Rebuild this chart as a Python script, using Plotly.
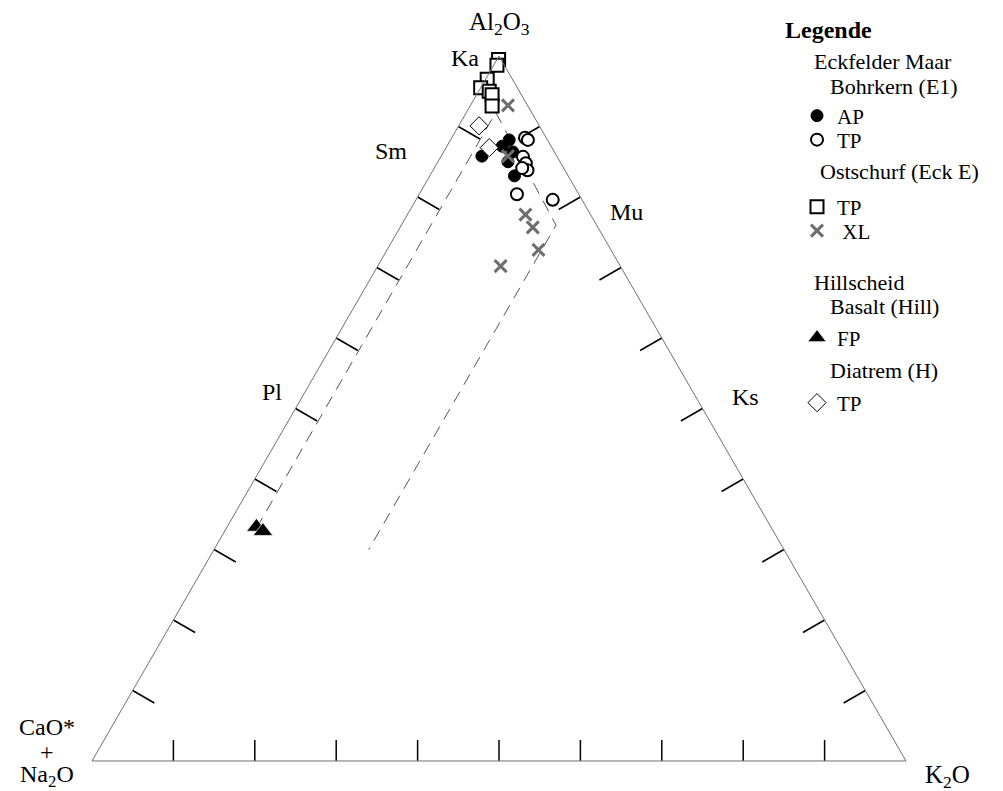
import plotly.graph_objects as go

W, H = 1003, 791

# ---------------- data (fractions: A = Al2O3, CN = CaO*+Na2O, K = K2O) -------------
ap_A = [0.881, 0.872, 0.858, 0.864, 0.850, 0.830]
ap_K = [0.072, 0.068, 0.050, 0.085, 0.086, 0.104]
ap_CN = [0.047, 0.060, 0.092, 0.051, 0.064, 0.066]

e1tp_A = [0.884, 0.881, 0.857, 0.848, 0.838, 0.841, 0.804, 0.796]
e1tp_K = [0.090, 0.095, 0.101, 0.109, 0.116, 0.108, 0.120, 0.168]
e1tp_CN = [0.026, 0.024, 0.042, 0.043, 0.046, 0.051, 0.076, 0.036]

ecktp_A = [0.995, 0.987, 0.967, 0.955, 0.950, 0.945, 0.929]
ecktp_K = [0.002, 0.004, 0.002, 0.000, 0.013, 0.019, 0.027]
ecktp_CN = [0.003, 0.009, 0.031, 0.045, 0.037, 0.036, 0.044]

xl_A = [0.930, 0.858, 0.775, 0.757, 0.725, 0.702]
xl_K = [0.046, 0.082, 0.145, 0.163, 0.186, 0.151]
xl_CN = [0.024, 0.060, 0.080, 0.080, 0.089, 0.147]

fp_A = [0.332, 0.326]
fp_K = [0.036, 0.047]
fp_CN = [0.632, 0.627]

htp_A = [0.901, 0.870]
htp_K = [0.025, 0.053]
htp_CN = [0.074, 0.077]

trend_A = [0.33, 0.92, 0.76, 0.30]
trend_K = [0.037, 0.036, 0.19, 0.19]
trend_CN = [0.633, 0.044, 0.05, 0.51]

tick_vals = [0.1, 0.2, 0.3, 0.4, 0.5, 0.6, 0.7, 0.8, 0.9]

# ---------------- helpers ----------------
def px(x):
    return x / W

def py(y):
    return 1 - y / H

SERIF = "Liberation Serif"
TRI_H = 705.0          # triangle height in px (for tick length conversion)
D_SIDE = 25 / TRI_H    # side tick length
D_BASE = 21 / TRI_H    # bottom tick length

# perpendicular, inward-pointing ticks built from tick_vals
tk_a, tk_b, tk_c = [], [], []
for t in tick_vals:
    # left side (CN-A side), tick toward K apex
    tk_a += [t, t - D_SIDE / 2, None]
    tk_b += [1 - t, 1 - t - D_SIDE / 2, None]
    tk_c += [0, D_SIDE, None]
    # right side (A-K side), tick toward CN apex
    tk_a += [t, t - D_SIDE / 2, None]
    tk_b += [0, D_SIDE, None]
    tk_c += [1 - t, 1 - t - D_SIDE / 2, None]
    # base (CN-K side), tick toward A apex
    tk_a += [0, D_BASE, None]
    tk_b += [1 - t, 1 - t - D_BASE / 2, None]
    tk_c += [t, t - D_BASE / 2, None]

fig = go.Figure()

fig.add_trace(go.Scatterternary(
    a=tk_a, b=tk_b, c=tk_c, mode="lines", connectgaps=False,
    line=dict(color="black", width=1.5), showlegend=False, hoverinfo="skip"))

fig.add_trace(go.Scatterternary(
    a=trend_A, b=trend_CN, c=trend_K, mode="lines",
    line=dict(color="#555555", width=1, dash="12px,8px"),
    showlegend=False, hoverinfo="skip"))

common = dict(mode="markers", cliponaxis=False)
fig.add_trace(go.Scatterternary(
    a=ap_A, b=ap_CN, c=ap_K, name="AP", legend="legend", **common,
    marker=dict(symbol="circle", size=12, color="black", line=dict(color="black", width=1))))
fig.add_trace(go.Scatterternary(
    a=e1tp_A, b=e1tp_CN, c=e1tp_K, name="TP", legend="legend2", **common,
    marker=dict(symbol="circle", size=12, color="white", line=dict(color="black", width=2))))
fig.add_trace(go.Scatterternary(
    a=ecktp_A, b=ecktp_CN, c=ecktp_K, name="TP", legend="legend3", **common,
    marker=dict(symbol="square", size=13, color="white", line=dict(color="black", width=2))))
fig.add_trace(go.Scatterternary(
    a=xl_A, b=xl_CN, c=xl_K, name=" XL", legend="legend4", **common,
    marker=dict(symbol="x-thin", size=12, color="#6e6e6e", line=dict(color="#6e6e6e", width=3))))
fig.add_trace(go.Scatterternary(
    a=fp_A, b=fp_CN, c=fp_K, name="FP", legend="legend5", **common,
    marker=dict(symbol="triangle-up", size=17, color="black", line=dict(color="white", width=0.7))))
fig.add_trace(go.Scatterternary(
    a=htp_A, b=htp_CN, c=htp_K, name="TP", legend="legend6", **common,
    marker=dict(symbol="diamond", size=14, color="white", line=dict(color="black", width=1))))

axis_style = dict(showticklabels=False, ticks="", linecolor="#707070", linewidth=1,
                  showgrid=False, title=dict(text=""))

leg_font = dict(family=SERIF, size=21, color="black")
leg_common = dict(xanchor="left", yanchor="middle", bgcolor="rgba(0,0,0,0)",
                  font=leg_font, itemsizing="trace", borderwidth=0)
LX = px(797)

fig.update_layout(
    width=W, height=H, margin=dict(l=0, r=0, t=0, b=0),
    paper_bgcolor="white", plot_bgcolor="white",
    font=dict(family=SERIF, size=20, color="black"),
    ternary=dict(
        sum=1, bgcolor="white",
        domain=dict(x=[px(92), px(906)], y=[py(761), py(56)]),
        aaxis=axis_style, baxis=axis_style, caxis=axis_style,
    ),
    legend=dict(leg_common, x=LX, y=py(116)),
    legend2=dict(leg_common, x=LX, y=py(140)),
    legend3=dict(leg_common, x=LX, y=py(207)),
    legend4=dict(leg_common, x=LX, y=py(231)),
    legend5=dict(leg_common, x=LX, y=py(338)),
    legend6=dict(leg_common, x=LX, y=py(403)),
)

labels = [
    ("Al<sub>2</sub>O<sub>3</sub>", 499, 23, 25),
    ("Ka", 465, 58, 24),
    ("Sm", 391, 151, 24),
    ("Pl", 272, 392, 24),
    ("Mu", 626, 212, 24),
    ("Ks", 745, 397, 24),
    ("K<sub>2</sub>O", 947, 776, 25),
    ("CaO*", 47, 727, 24),
    ("+", 47, 752, 24),
    ("Na<sub>2</sub>O", 47, 776, 24),
]
for txt, x, y, s in labels:
    fig.add_annotation(text=txt, x=px(x), y=py(y), xref="paper", yref="paper",
                       xanchor="center", yanchor="middle", showarrow=False,
                       font=dict(family=SERIF, size=s, color="black"))

headers = [
    ("<b>Legende</b>", 783, 30, 24),
    ("Eckfelder Maar", 812, 62, 22),
    ("Bohrkern (E1)", 828, 87, 22),
    ("Ostschurf (Eck E)", 818, 171, 22),
    ("Hillscheid", 812, 282, 22),
    ("Basalt (Hill)", 828, 306, 22),
    ("Diatrem (H)", 828, 370, 22),
]
for txt, x, y, s in headers:
    fig.add_annotation(text=txt, x=px(x), y=py(y), xref="paper", yref="paper",
                       xanchor="left", yanchor="middle", showarrow=False,
                       font=dict(family=SERIF, size=s, color="black"))

fig.write_html("out.html")
